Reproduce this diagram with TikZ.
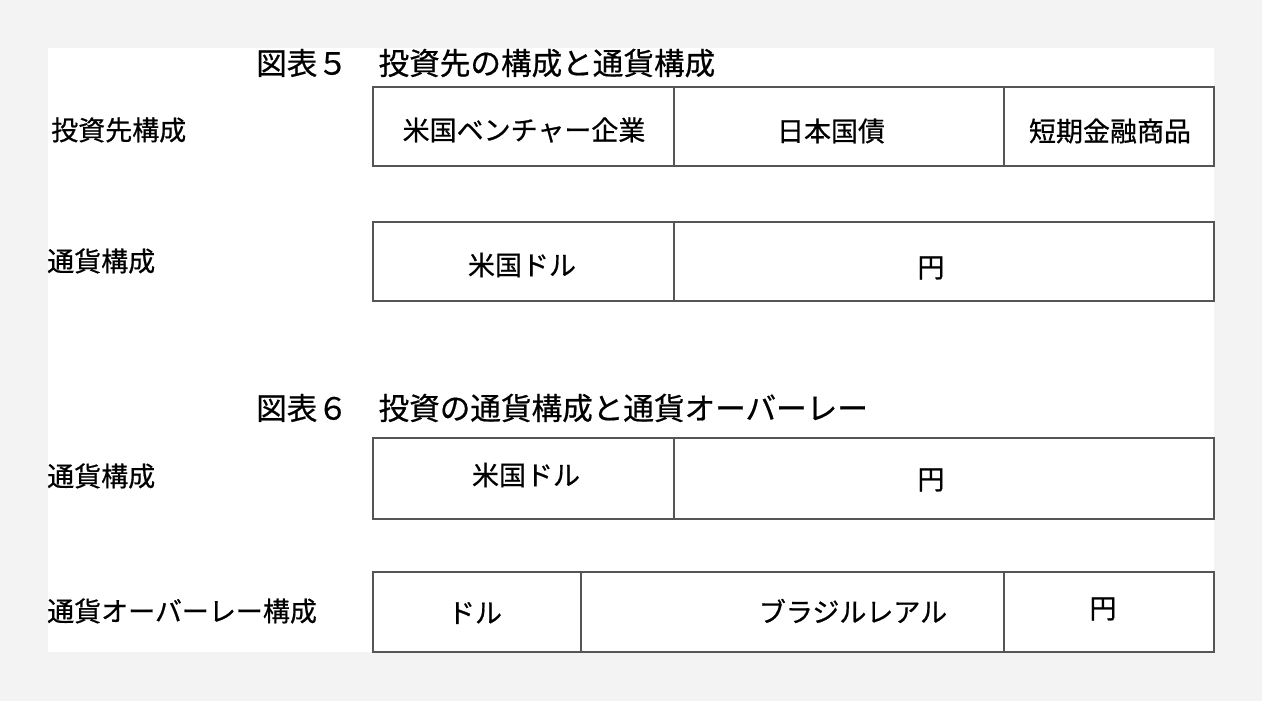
\documentclass[tikz,border=0pt]{standalone}
\usepackage{fontspec}
\setmainfont{Noto Sans CJK JP}[FakeBold=0.6]
\definecolor{bggray}{HTML}{F3F3F3}
\definecolor{linegray}{HTML}{555555}
\tikzset{
  cellline/.style={draw=linegray, line width=1.2bp},
  txt/.style={inner sep=0pt, anchor=center, font=\fontsize{27bp}{30bp}\selectfont},
  lbl/.style={inner sep=0pt, anchor=west, font=\fontsize{27bp}{30bp}\selectfont},
  ttl/.style={inner sep=0pt, anchor=west, font=\fontsize{30.6bp}{34bp}\selectfont}
}
\begin{document}
\begin{tikzpicture}[x=1bp, y=-1bp]
\useasboundingbox (0,0) rectangle (1262,701);
\fill[bggray] (0,0) rectangle (1262,701);
\fill[white] (48,48) rectangle (1214,652);

% titles
\node[ttl] (t5) at (256,63) {図表５　投資先の構成と通貨構成};
\node[ttl] (t6) at (256,408) {図表６　投資の通貨構成と通貨オーバーレー};

% row labels
\node[lbl] (l1) at (51,130) {投資先構成};
\node[lbl] (l2) at (47,261) {通貨構成};
\node[lbl] (l3) at (47,476) {通貨構成};
\node[lbl] (l4) at (47,611) {通貨オーバーレー構成};

% row 1
\draw[cellline] (373,87) rectangle (1214,166);
\draw[cellline] (674,87) -- (674,166);
\draw[cellline] (1004,87) -- (1004,166);
\node[txt] (a1) at (524,130) {米国ベンチャー企業};
\node[txt] (a2) at (831,131) {日本国債};
\node[txt] (a3) at (1110,131) {短期金融商品};

% row 2
\draw[cellline] (373,222) rectangle (1214,301);
\draw[cellline] (674,222) -- (674,301);
\node[txt] (b1) at (522,265) {米国ドル};
\node[txt] (b2) at (931,268) {円};

% row 3
\draw[cellline] (373,438) rectangle (1214,519);
\draw[cellline] (674,438) -- (674,519);
\node[txt] (c1) at (526,475) {米国ドル};
\node[txt] (c2) at (931,480) {円};

% row 4
\draw[cellline] (373,572) rectangle (1214,652);
\draw[cellline] (581,573) -- (581,652);
\draw[cellline] (1004,573) -- (1004,652);
\node[txt] (d1) at (475,613) {ドル};
\node[txt] (d2) at (853,611) {ブラジルレアル};
\node[txt] (d3) at (1103,609) {円};
\end{tikzpicture}
\end{document}
